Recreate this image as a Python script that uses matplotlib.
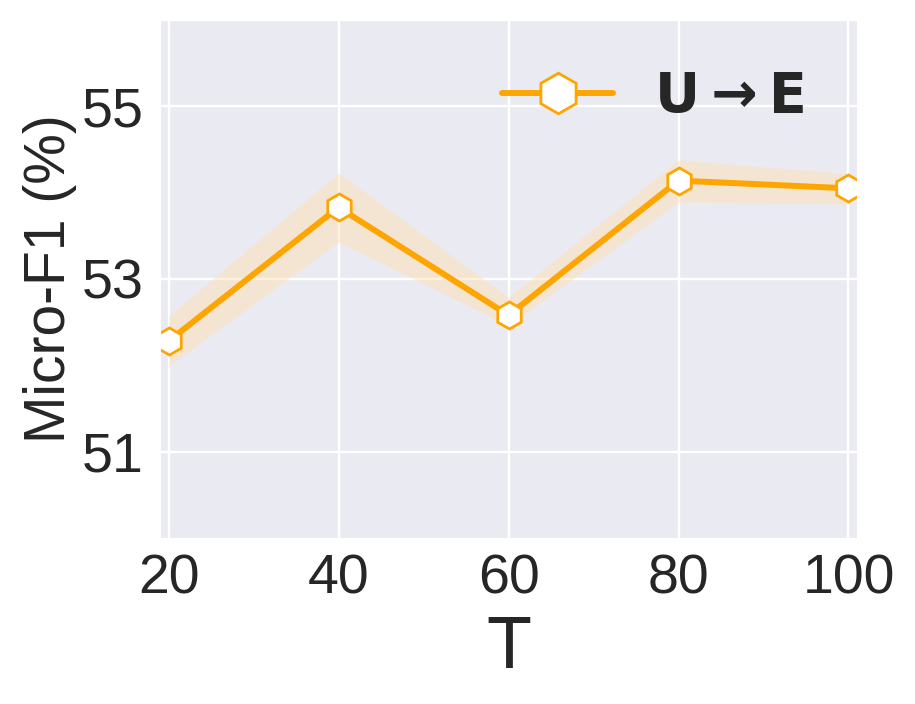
import numpy as np
import matplotlib
matplotlib.use("Agg")
import matplotlib.pyplot as plt
import seaborn as sns

sns.set_style("darkgrid")
plt.rcParams['font.family'] = ['Liberation Sans', 'DejaVu Sans']

T = [20, 40, 60, 80, 100]
f1_mean = [52.28, 53.83, 52.58, 54.14, 54.05]
f1_low = [51.99, 53.43, 52.46, 53.89, 53.87]
f1_high = [52.57, 54.23, 52.79, 54.38, 54.22]
label = "U\u2009→\u2009E"

fig = plt.figure(figsize=(9.15, 7.04), dpi=100)
ax = fig.add_axes([0.1749, 0.2358, 0.7617, 0.7358])

ax.fill_between(T, f1_low, f1_high, color="#ffe2b6", alpha=0.5, linewidth=0)
ax.plot(T, f1_mean, color="orange", linewidth=4.3, marker="h", markersize=19.5,
        markerfacecolor="white", markeredgecolor="orange", markeredgewidth=2,
        label=label)

ax.set_xlim(19, 101)
ax.set_ylim(50, 56)
ax.set_xticks(T)
ax.set_yticks([51, 53, 55])
ax.tick_params(labelsize=40, colors=".15", pad=8)
ax.grid(color="white", linewidth=1.7)

ax.set_xlabel("T", fontsize=53, color=".15", labelpad=6)
ax.set_ylabel("Micro-F1 (%)", fontsize=41, color=".15", labelpad=4)

ax.legend(loc="upper right", frameon=False, markerscale=1.5,
          prop={'family': 'DejaVu Sans', 'weight': 'bold', 'size': 40},
          handlelength=2.0, handletextpad=0.75, borderaxespad=0.5)

fig.savefig("out.png", dpi=100)
